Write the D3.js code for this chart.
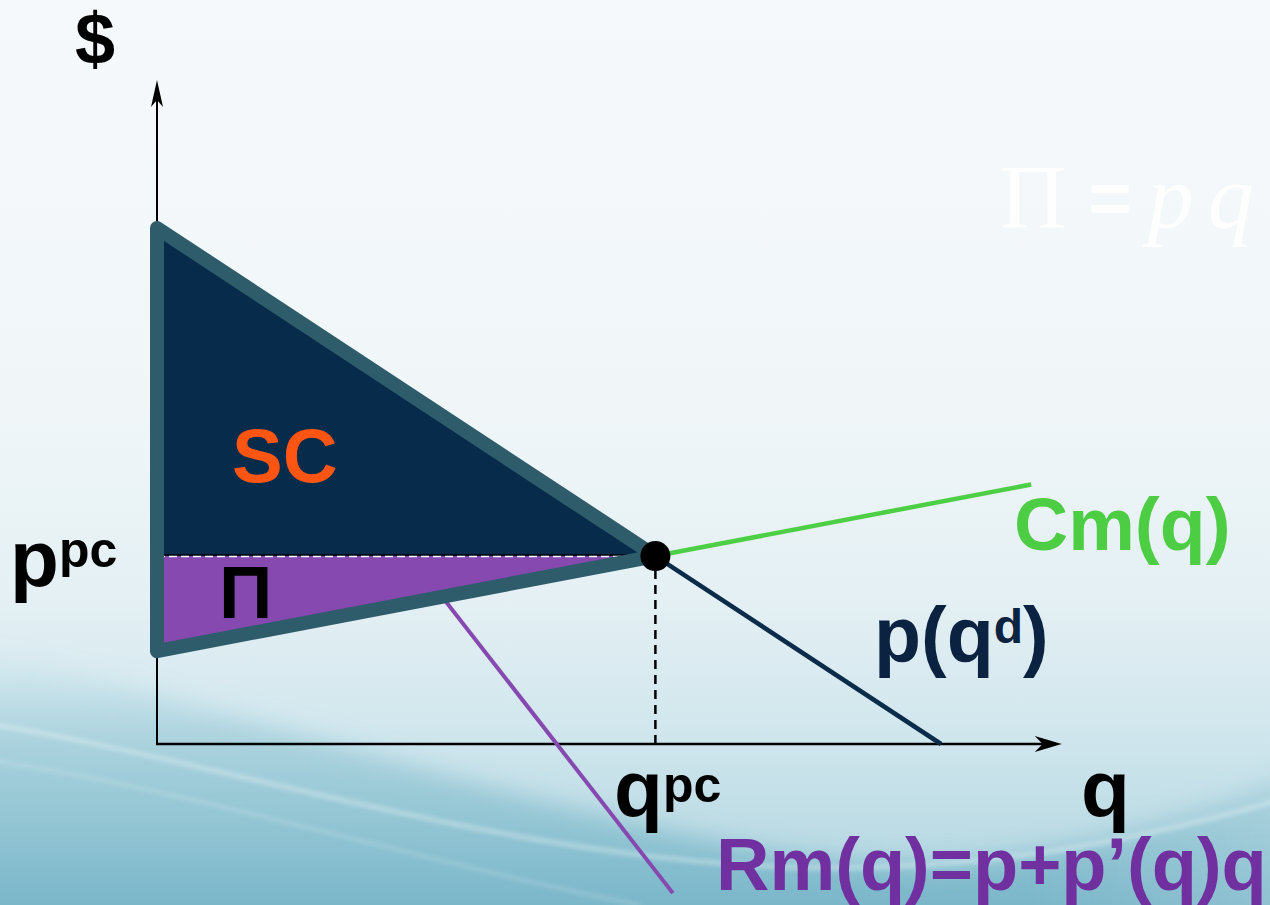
<!DOCTYPE html>
<html>
<head>
<meta charset="utf-8">
<script src="https://cdn.jsdelivr.net/npm/d3@7/dist/d3.min.js"></script>
<style>
  html, body { margin: 0; padding: 0; background: #f5f9fb; }
  svg { display: block; }
  text { font-family: "Liberation Sans", Arial, Helvetica, sans-serif; font-weight: bold; }
</style>
</head>
<body>
<svg id="chart" width="1270" height="905"></svg>
<script>
// Monopoly vs. perfect competition: inverse demand p(q), marginal cost Cm(q),
// marginal revenue Rm(q) = p + p'(q)q, and the surplus (SC) / profit (Π) areas.

// Inverse demand p(q^d) = 10 - q
const demandQ = [0, 10];
const demandP = [10, 0];

// Marginal cost Cm(q) = 1.8 + 0.29 q
const cmQ = [0, 11.15];
const cmP = [1.8, 5.03];

// Marginal revenue Rm(q)
const rmQ = [0, 6.58];
const rmP = [9.95, -2.89];

// Competitive equilibrium where p(q) = Cm(q)
const eqQ = [6.357];
const eqP = [3.643];

// Axis extents (arrow tips)
const axisQMax = [11.54];
const axisPMax = [12.87];

// Text labels
const axisLabels = ["$", "q"];
const pointLabels = ["p", "pc", "q", "pc"];
const curveLabels = ["Cm(q)", "p(q", "d", ")", "Rm(q)=p+p\u2019(q)q"];
const areaLabels = ["SC", "\u03A0"];
const formulaLabel = ["\u03A0", "=", "p", "q"];

const W = 1270, H = 905;
const svg = d3.select("#chart");

const x = d3.scaleLinear().domain([0, 10]).range([157, 941]);
const y = d3.scaleLinear().domain([0, 10]).range([744, 228]);

const defs = svg.append("defs");

// ---------- background ----------
const bgGrad = defs.append("linearGradient").attr("id", "bg").attr("x1", 0).attr("y1", 0).attr("x2", 0).attr("y2", 1);
[[0, "#f6f9fb"], [0.45, "#f0f6f8"], [0.66, "#e4f0f4"], [0.8, "#d2e7ee"], [1, "#aed4df"]]
  .forEach(([o, c]) => bgGrad.append("stop").attr("offset", o).attr("stop-color", c));

const lowGrad = defs.append("linearGradient").attr("id", "low").attr("x1", 0).attr("y1", 0).attr("x2", 0).attr("y2", 1);
[[0, "#a8d2de", 0.0], [0.3, "#a0cdd9", 0.8], [1, "#6aadc2", 1]]
  .forEach(([o, c, a]) => lowGrad.append("stop").attr("offset", o).attr("stop-color", c).attr("stop-opacity", a));

const lowRight = defs.append("linearGradient").attr("id", "lowR").attr("x1", 0).attr("y1", 0).attr("x2", 1).attr("y2", 0);
[[0, "#ffffff", 0], [0.55, "#ffffff", 0], [1, "#ffffff", 0.18]]
  .forEach(([o, c, a]) => lowRight.append("stop").attr("offset", o).attr("stop-color", c).attr("stop-opacity", a));

defs.append("filter").attr("id", "soft").attr("x", "-10%").attr("y", "-10%").attr("width", "120%").attr("height", "120%")
  .append("feGaussianBlur").attr("stdDeviation", 12);
defs.append("filter").attr("id", "soft2").attr("x", "-10%").attr("y", "-50%").attr("width", "120%").attr("height", "200%")
  .append("feGaussianBlur").attr("stdDeviation", 2.2);

const bg = svg.append("g");
bg.append("rect").attr("width", W).attr("height", H).attr("fill", "url(#bg)");
bg.append("path")
  .attr("d", "M-40,650 C200,695 450,790 760,850 C950,885 1120,850 1310,770 L1310,960 L-40,960 Z")
  .attr("fill", "url(#low)").attr("filter", "url(#soft)");
bg.append("path")
  .attr("d", "M700,860 C950,885 1120,850 1310,770 L1310,960 L700,960 Z")
  .attr("fill", "url(#lowR)").attr("filter", "url(#soft)");
// light swooshes
bg.append("path")
  .attr("d", "M-10,724 C220,762 480,850 760,866 C960,876 1120,845 1280,800")
  .attr("fill", "none").attr("stroke", "#ffffff").attr("stroke-opacity", 0.3)
  .attr("stroke-width", 5).attr("filter", "url(#soft2)");
bg.append("path")
  .attr("d", "M-10,760 C200,792 420,862 640,905")
  .attr("fill", "none").attr("stroke", "#ffffff").attr("stroke-opacity", 0.16)
  .attr("stroke-width", 4).attr("filter", "url(#soft2)");

// faint formula in the upper right
const fml = svg.append("text").attr("x", 1000).attr("y", 228).attr("fill", "#ffffff").attr("fill-opacity", 0.85)
  .style("font-weight", "normal").style("font-size", "92px");
fml.append("tspan").style("font-family", "'Liberation Serif', 'DejaVu Serif', serif").text(formulaLabel[0]);
fml.append("tspan").attr("dx", 22).attr("dy", -4).style("font-family", "'Liberation Sans', sans-serif").style("font-weight", "bold")
  .style("font-size", "74px").text(formulaLabel[1]);
fml.append("tspan").attr("dx", 16).attr("dy", 4).style("font-family", "'Liberation Serif', serif").style("font-style", "italic").text(formulaLabel[2]);
fml.append("tspan").attr("dx", 14).style("font-family", "'Liberation Serif', serif").style("font-style", "italic").text(formulaLabel[3]);

// ---------- axes ----------
const axes = svg.append("g");
axes.append("line").attr("x1", x(0)).attr("y1", y(0)).attr("x2", x(0)).attr("y2", y(axisPMax[0]) + 6)
  .attr("stroke", "#000").attr("stroke-width", 2);
axes.append("line").attr("x1", x(0) - 1).attr("y1", y(0)).attr("x2", x(axisQMax[0]) - 6).attr("y2", y(0))
  .attr("stroke", "#000").attr("stroke-width", 2.5);
// arrow heads
{
  const tx = x(0), ty = y(axisPMax[0]);
  axes.append("path").attr("d", `M${tx},${ty} L${tx + 6},${ty + 27} L${tx},${ty + 20} L${tx - 6},${ty + 27} Z`).attr("fill", "#000");
  const ax = x(axisQMax[0]), ay = y(0);
  axes.append("path").attr("d", `M${ax},${ay} L${ax - 27},${ay - 8} L${ax - 19},${ay} L${ax - 27},${ay + 8} Z`).attr("fill", "#000");
}

// ---------- curves beneath the areas ----------
const line = d3.line().x(d => x(d[0])).y(d => y(d[1]));

svg.append("path").datum(d3.zip(rmQ, rmP)).attr("d", line)
  .attr("fill", "none").attr("stroke", "#8549b0").attr("stroke-width", 4);

svg.append("path").datum([[eqQ[0], eqP[0]], [demandQ[1], demandP[1]]]).attr("d", line)
  .attr("fill", "none").attr("stroke", "#0b2b4a").attr("stroke-width", 4.5);

svg.append("path").datum([[eqQ[0], eqP[0]], [cmQ[1], cmP[1]]]).attr("d", line)
  .attr("fill", "none").attr("stroke", "#4ccf45").attr("stroke-width", 4.5);

// ---------- surplus areas ----------
const scArea = [[demandQ[0], demandP[0]], [eqQ[0], eqP[0]], [0, eqP[0]]];
const piArea = [[0, eqP[0]], [eqQ[0], eqP[0]], [cmQ[0], cmP[0]]];
svg.append("path").datum(scArea).attr("d", d => line(d) + "Z").attr("fill", "#072b4b");
svg.append("path").datum(piArea).attr("d", d => line(d) + "Z").attr("fill", "#8549b0");

// price line p^pc across the areas
svg.append("line").attr("x1", x(0)).attr("x2", x(eqQ[0]) - 10).attr("y1", y(eqP[0]) - 1).attr("y2", y(eqP[0]) - 1)
  .attr("stroke", "#000").attr("stroke-width", 1.5);
svg.append("line").attr("x1", x(0)).attr("x2", x(eqQ[0]) - 10).attr("y1", y(eqP[0]) + 0.5).attr("y2", y(eqP[0]) + 0.5)
  .attr("stroke", "#ffffff").attr("stroke-width", 1.5).attr("stroke-dasharray", "8,4");

// outline of the total surplus triangle
const outline = [[demandQ[0], demandP[0]], [eqQ[0], eqP[0]], [cmQ[0], cmP[0]]];
svg.append("path").datum(outline).attr("d", d => line(d) + "Z")
  .attr("fill", "none").attr("stroke", "#2e5c6b").attr("stroke-width", 14).attr("stroke-linejoin", "round");

// vertical guide at q^pc
svg.append("line").attr("x1", x(eqQ[0])).attr("x2", x(eqQ[0])).attr("y1", y(eqP[0]) + 14).attr("y2", y(0) + 6)
  .attr("stroke", "#000").attr("stroke-width", 2.5).attr("stroke-dasharray", "9,6");

// equilibrium point
svg.append("circle").attr("cx", x(eqQ[0])).attr("cy", y(eqP[0])).attr("r", 15).attr("fill", "#000");

// ---------- labels ----------
function label(xp, yp, size, color) {
  return svg.append("text").attr("x", xp).attr("y", yp).attr("fill", color).style("font-size", size + "px");
}
label(75, 64, 72, "#000").text(axisLabels[0]);
label(1081, 816, 80, "#000").text(axisLabels[1]);

const pp = label(10, 586, 80, "#000");
pp.append("tspan").text(pointLabels[0]);
pp.append("tspan").attr("dy", -19).style("font-size", "50px").text(pointLabels[1]);

const qp = label(614, 816, 80, "#000");
qp.append("tspan").text(pointLabels[2]);
qp.append("tspan").attr("dy", -14).style("font-size", "50px").text(pointLabels[3]);

label(1014, 550, 75, "#4ccd43").text(curveLabels[0]);

const pd = label(874, 662, 77, "#0b2340");
pd.append("tspan").text(curveLabels[1]);
pd.append("tspan").attr("dy", -19).style("font-size", "48px").text(curveLabels[2]);
pd.append("tspan").attr("dy", 19).text(curveLabels[3]);

label(716, 890, 74, "#7030a0").text(curveLabels[4]);

label(232, 482, 76, "#ff5512").text(areaLabels[0]);
label(219, 618, 74, "#000").text(areaLabels[1]);
</script>
</body>
</html>
